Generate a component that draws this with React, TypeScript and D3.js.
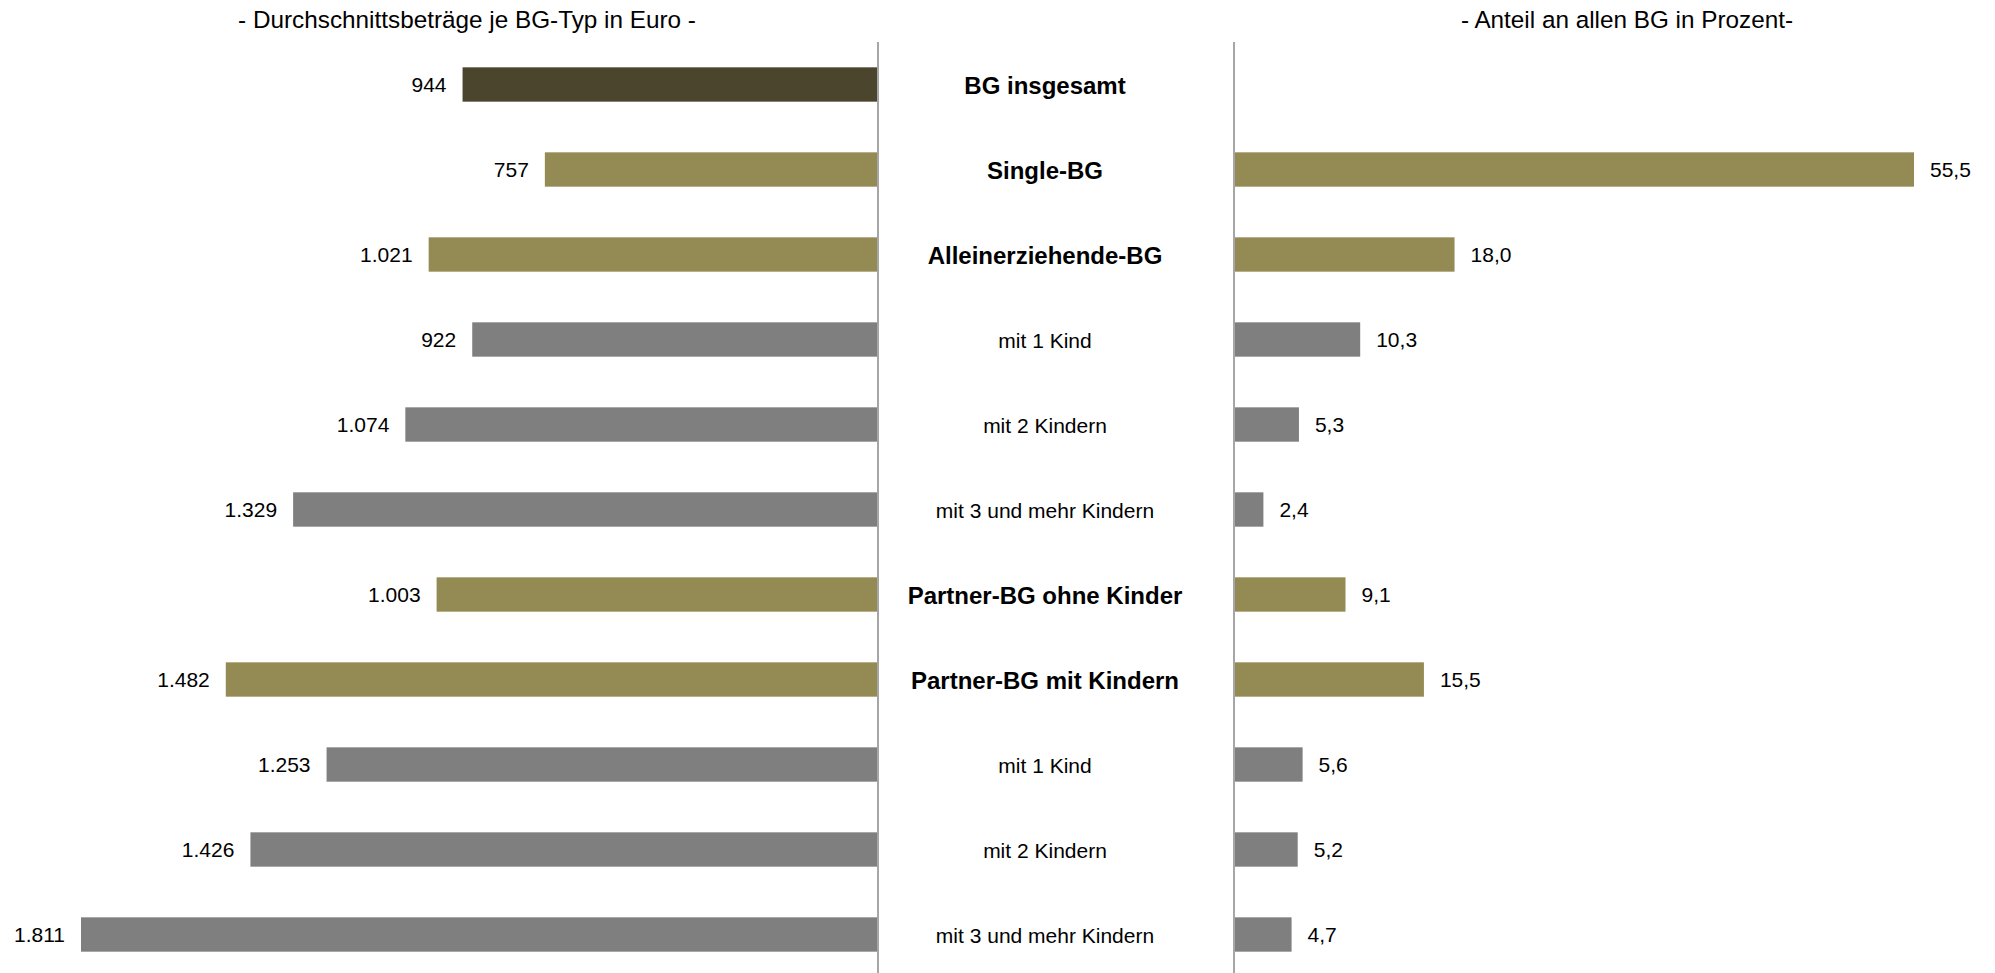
import React from "react";
import * as d3 from "d3";

const categories = [
  "BG insgesamt",
  "Single-BG",
  "Alleinerziehende-BG",
  "mit 1 Kind",
  "mit 2 Kindern",
  "mit 3 und mehr Kindern",
  "Partner-BG ohne Kinder",
  "Partner-BG mit Kindern",
  "mit 1 Kind",
  "mit 2 Kindern",
  "mit 3 und mehr Kindern",
];
const boldRows = [true, true, true, false, false, false, true, true, false, false, false];
const amounts = [944, 757, 1021, 922, 1074, 1329, 1003, 1482, 1253, 1426, 1811];
const shares: (number | null)[] = [null, 55.5, 18.0, 10.3, 5.3, 2.4, 9.1, 15.5, 5.6, 5.2, 4.7];
const rowKinds = ["total", "main", "main", "sub", "sub", "sub", "main", "main", "sub", "sub", "sub"];
const titleLeft = "- Durchschnittsbeträge je BG-Typ in Euro -";
const titleRight = "- Anteil an allen BG in Prozent-";

const colorOf: Record<string, string> = {
  total: "#4a452c",
  main: "#948a54",
  sub: "#7f7f7f",
};

const W = 1995;
const H = 973;
const FONT = "'Liberation Sans', Arial, sans-serif";

const de = d3.formatLocale({
  decimal: ",",
  thousands: ".",
  grouping: [3],
  currency: ["", " €"],
});
const fmtInt = de.format(",d");
const fmtDec = de.format(".1f");

export default function App() {
  const idx = categories.map((_, i) => i);
  const y = d3.scaleBand<number>().domain(idx).range([42, 977]).paddingInner(0.596).paddingOuter(0.298);
  const xLeft = d3.scaleLinear().domain([0, 1811]).range([878, 81]);
  const xRight = d3.scaleLinear().domain([0, 55.5]).range([1234, 1914]);
  const bw = y.bandwidth();
  const catX = 1045;

  return (
    <svg
      width={W}
      height={H}
      style={{ position: "absolute", left: 0, top: 0, background: "#fff" }}
      fontFamily={FONT}
    >
      <rect x={0} y={0} width={W} height={H} fill="#fff" />
      <text x={467} y={19} textAnchor="middle" dominantBaseline="central" fontSize={24.3} fill="#000">
        {titleLeft}
      </text>
      <text x={1627} y={19} textAnchor="middle" dominantBaseline="central" fontSize={24.3} fill="#000">
        {titleRight}
      </text>

      {idx.map((i) => {
        const cy = (y(i) as number) + bw / 2;
        const x0 = xLeft(amounts[i]);
        return (
          <g key={"l" + i}>
            <rect x={x0} y={y(i)} width={xLeft(0) - x0} height={bw} fill={colorOf[rowKinds[i]]} />
            <text x={x0 - 16} y={cy} textAnchor="end" dominantBaseline="central" fontSize={21} fill="#000">
              {fmtInt(amounts[i])}
            </text>
          </g>
        );
      })}

      {idx.map((i) => {
        const cy = (y(i) as number) + bw / 2;
        return (
          <text
            key={"c" + i}
            x={catX}
            y={cy + 1}
            textAnchor="middle"
            dominantBaseline="central"
            fontSize={boldRows[i] ? 24 : 21}
            fontWeight={boldRows[i] ? "bold" : "normal"}
            fill="#000"
          >
            {categories[i]}
          </text>
        );
      })}

      {idx.map((i) => {
        const v = shares[i];
        if (v == null) return null;
        const cy = (y(i) as number) + bw / 2;
        const x1 = xRight(v);
        return (
          <g key={"r" + i}>
            <rect x={xRight(0)} y={y(i)} width={x1 - xRight(0)} height={bw} fill={colorOf[rowKinds[i]]} />
            <text x={x1 + 16} y={cy} textAnchor="start" dominantBaseline="central" fontSize={21} fill="#000">
              {fmtDec(v)}
            </text>
          </g>
        );
      })}

      <line x1={878} x2={878} y1={42} y2={H} stroke="#a6a6a6" strokeWidth={2} />
      <line x1={1234} x2={1234} y1={42} y2={H} stroke="#a6a6a6" strokeWidth={2} />
    </svg>
  );
}
